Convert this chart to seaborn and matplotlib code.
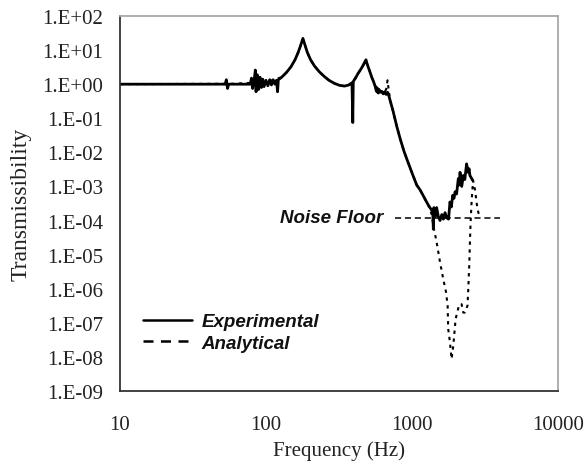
import matplotlib
matplotlib.use("Agg")
import matplotlib.pyplot as plt
import numpy as np
import pandas as pd
import seaborn as sns
from matplotlib.lines import Line2D
from matplotlib.ticker import FixedLocator, FixedFormatter, NullLocator

# Measured transmissibility (frequency in Hz)
exp_freq = [10, 50, 52.5, 53.5, 54.5, 55.5, 78, 79.5, 81, 83, 84.5, 85.5, 87, 89, 91, 93,
            95, 97, 100, 103, 106, 109, 112, 115, 118, 120, 121.5, 128, 138, 148, 158,
            166, 173, 179, 185, 192, 202, 215, 232, 250, 270, 295, 320, 345, 370, 388,
            393, 396, 410, 425, 440, 458, 475, 484, 492, 505, 515, 530, 545, 560, 570,
            578, 586, 595, 605, 620, 635, 650, 665, 680, 695, 710, 740, 785, 830, 880,
            920, 1000, 1077, 1135, 1190, 1227, 1259, 1310, 1365, 1390, 1400, 1412, 1440,
            1475, 1515, 1556, 1600, 1640, 1684, 1730, 1780, 1820, 1860, 1900, 1940, 1972,
            2020, 2076, 2105, 2133, 2190, 2249, 2300, 2365, 2425, 2460, 2493, 2606]
exp_T = [1.0, 1.0, 1.0, 1.35, 0.75, 1.0, 1.0, 1.5, 0.75, 1.3, 2.6, 0.6, 1.9, 0.7, 1.6, 0.8,
         1.4, 0.85, 1.3, 0.9, 1.35, 0.95, 1.35, 1.0, 1.3, 0.6, 1.35, 1.6, 2.2, 3.2, 5.2,
         8.5, 14, 22, 14, 8.5, 5.2, 3.4, 2.3, 1.7, 1.3, 1.05, 0.92, 0.88, 0.95, 1.1,
         0.075, 1.2, 1.5, 2.0, 2.5, 3.3, 4.5, 5.2, 4.0, 2.9, 2.3, 1.6, 1.2, 0.85, 0.62,
         0.78, 0.55, 0.7, 0.58, 0.62, 0.52, 0.6, 0.5, 0.58, 0.45, 0.32, 0.17, 0.06, 0.025, 0.011,
         6.5e-3, 2.5e-3, 1.1e-3, 8e-4, 5.5e-4, 4.3e-4, 3.5e-4, 2.6e-4, 2.0e-4, 1.5e-4, 5.6e-5, 2.4e-4, 1.3e-4,
         2.4e-4, 1.3e-4, 1.0e-4, 1.5e-4, 1.1e-4, 1.7e-4, 1.2e-4, 1.1e-4, 3.5e-4, 2.5e-4, 5.5e-4, 4.5e-4, 7e-4,
         6e-4, 1.7e-3, 1.1e-3, 2.6e-3, 1.0e-3, 2.1e-3, 1.6e-3, 4.6e-3, 2.6e-3, 3.3e-3, 2.1e-3, 1.5e-3]

# Model prediction
ana_freq = [10, 60, 100, 128, 138, 148, 158, 166, 173, 179, 185, 192, 202, 215, 232, 250,
            270, 295, 320, 345, 370, 395, 425, 458, 484, 500, 530, 560, 600, 640, 665,
            680, 695, 710, 740, 785, 830, 880, 920, 1000, 1077, 1135, 1227, 1310, 1365,
            1400, 1475, 1556, 1638, 1710, 1754, 1770, 1820, 1866, 1917, 1990, 2107, 2188,
            2244, 2300, 2400, 2430, 2466, 2493, 2520, 2566, 2620, 2700, 2780, 2847, 2923]
ana_T = [1.0, 1.03, 1.15, 1.6, 2.2, 3.2, 5.2, 8.5, 14, 21, 14, 8.5, 5.2, 3.4, 2.3, 1.7,
         1.3, 1.05, 0.92, 0.88, 0.95, 1.2, 2.0, 3.3, 4.8, 3.4, 1.6, 0.9, 0.6, 0.55, 0.7,
         1.3, 0.6, 0.32, 0.17, 0.06, 0.025, 0.011, 6.5e-3, 2.5e-3, 1.1e-3, 8e-4, 4.3e-4, 2.5e-4, 1.5e-4,
         7e-5, 2.3e-5, 6e-6, 1.9e-6, 8e-7, 3.2e-7, 6.6e-8, 2.7e-8, 8.7e-9, 2.1e-8, 1.3e-7, 3.5e-7, 3.5e-7,
         2e-7, 2e-7, 3.2e-7, 1e-6, 4.8e-6, 2.3e-5, 9e-5, 4.3e-4, 1.5e-3, 8e-4, 3e-4, 1.7e-4, 1.4e-4]

# Measurement noise floor
noise_freq = [766, 4010]
noise_T = [1.2e-4, 1.2e-4]

y_exponents = list(range(-9, 3))
y_ticks = [10.0 ** k for k in y_exponents]
y_labels = [f"1.E{k:+03d}" for k in y_exponents]
x_ticks = [10, 100, 1000, 10000]
x_labels = ["10", "100", "1000", "10000"]

sns.set_style("white")
plt.rcParams["font.family"] = ["Liberation Serif", "DejaVu Serif"]

fig = plt.figure(figsize=(5.87, 4.64), dpi=100)
ax = fig.add_axes([120 / 587, 1 - 392 / 464, 438 / 587, 375 / 464])

exp_df = pd.DataFrame({"Frequency": exp_freq, "Transmissibility": exp_T})
ana_df = pd.DataFrame({"Frequency": ana_freq, "Transmissibility": ana_T})
noise_df = pd.DataFrame({"Frequency": noise_freq, "Transmissibility": noise_T})

sns.lineplot(data=noise_df, x="Frequency", y="Transmissibility", ax=ax,
             color="black", linewidth=1.1, estimator=None)
ax.lines[-1].set_dashes([4, 2.5])
sns.lineplot(data=ana_df, x="Frequency", y="Transmissibility", ax=ax,
             color="black", linewidth=1.5, estimator=None)
ax.lines[-1].set_dashes([1.6, 2.2])
sns.lineplot(data=exp_df, x="Frequency", y="Transmissibility", ax=ax,
             color="black", linewidth=2.0, estimator=None)

ax.set_xscale("log")
ax.set_yscale("log")
ax.set_xlim(10, 10000)
ax.set_ylim(1e-9, 1e2)

ax.xaxis.set_major_locator(FixedLocator(x_ticks))
ax.xaxis.set_major_formatter(FixedFormatter(x_labels))
ax.yaxis.set_major_locator(FixedLocator(y_ticks))
ax.yaxis.set_major_formatter(FixedFormatter(y_labels))
ax.xaxis.set_minor_locator(NullLocator())
ax.yaxis.set_minor_locator(NullLocator())

ax.tick_params(axis="both", which="major", direction="in", length=5, width=1.0,
               colors="black", labelsize=15)
ax.tick_params(axis="x", pad=17)
ax.tick_params(axis="y", pad=12)
for lab in ax.get_xticklabels() + ax.get_yticklabels():
    lab.set_color("#222222")

for side in ["left", "bottom"]:
    ax.spines[side].set_color("#333333")
    ax.spines[side].set_linewidth(1.3)
for side in ["top", "right"]:
    ax.spines[side].set_color("#a8a8a8")
    ax.spines[side].set_linewidth(1.3)

ax.set_xlabel("Frequency (Hz)", fontsize=15, color="#222222", labelpad=5)
ax.set_ylabel("Transmissibility", fontsize=17, color="#222222", labelpad=8)

sans_bi = dict(family=["Liberation Sans", "DejaVu Sans"], weight="bold", style="italic")
ax.text(632, 1.2e-4, "Noise Floor", ha="right", va="center", fontsize=13.5,
        color="#111111", **sans_bi)

handles = [Line2D([], [], color="black", linewidth=1.8),
           Line2D([], [], color="black", linewidth=1.8, dashes=[4, 3])]
leg = ax.legend(handles, ["Experimental", "Analytical"], loc="center left",
                bbox_to_anchor=(0.052, 0.156), frameon=False, borderpad=0,
                borderaxespad=0, handlelength=2.6, handletextpad=0.55,
                labelspacing=0.25,
                prop=dict(family=["Liberation Sans", "DejaVu Sans"], weight="bold",
                          style="italic", size=13.5))
for t in leg.get_texts():
    t.set_color("#111111")

fig.savefig("out.png", dpi=100)
